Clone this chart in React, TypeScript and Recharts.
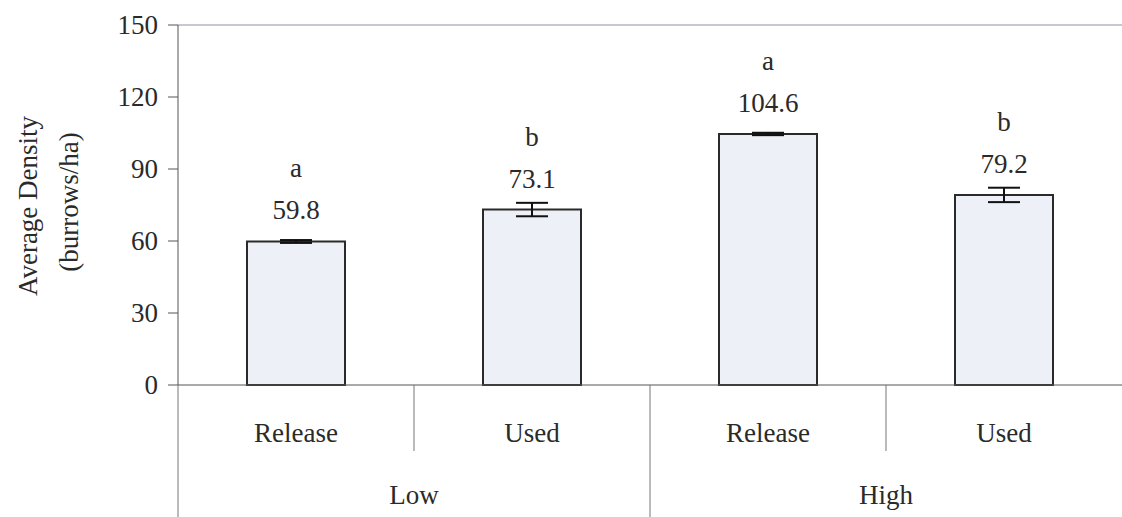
import { Bar, BarChart, ErrorBar, LabelList, ReferenceLine, XAxis, YAxis } from "recharts";

const categories = ["Release", "Used", "Release", "Used"];
const groups = ["Low", "Low", "High", "High"];
const densities = [59.8, 73.1, 104.6, 79.2];
const errors = [0.6, 2.8, 0.5, 3.0];
const letters = ["a", "b", "a", "b"];
const yTicks = [0, 30, 60, 90, 120, 150];

const W = 1122;
const H = 517;
const LEFT = 178;
const BAND = (W - LEFT) / categories.length;
const FONT = "'Times New Roman', 'Liberation Serif', Times, 'DejaVu Serif', serif";
const INK = "#2a2a2a";
const FS = 27;

const data = categories.map((c, i) => ({
  key: `${groups[i]} ${c}`,
  cat: c,
  group: groups[i],
  density: densities[i],
  err: errors[i],
  letter: letters[i],
}));

const txt = { fontFamily: FONT, fontSize: FS, fill: INK };

function ValueTick(props: any) {
  const { x, y, payload } = props;
  return (
    <text x={x} y={y} dy="0.35em" textAnchor="end" style={txt}>
      {payload.value}
    </text>
  );
}

function CategoryTick(props: any) {
  const { x, y, index } = props;
  const first = index % 2 === 0;
  const lx = x - BAND / 2;
  return (
    <g>
      <line x1={lx} y1={y} x2={lx} y2={first ? H : y + 66} stroke="#777" strokeWidth={1} />
      <text x={x} y={y + 57} textAnchor="middle" style={txt}>
        {categories[index]}
      </text>
      {first && (
        <text x={x + BAND / 2} y={y + 119} textAnchor="middle" style={txt}>
          {groups[index]}
        </text>
      )}
    </g>
  );
}

function BarLabels(props: any) {
  const { x, y, width, index } = props;
  const cx = x + width / 2;
  return (
    <g>
      <text x={cx} y={y - 22} textAnchor="middle" style={txt}>
        {densities[index].toFixed(1)}
      </text>
      <text x={cx} y={y - 64} textAnchor="middle" style={txt}>
        {letters[index]}
      </text>
    </g>
  );
}

function YTitle() {
  return (
    <g>
      <text transform="translate(37,206) rotate(-90)" textAnchor="middle" style={txt}>
        Average Density
      </text>
      <text transform="translate(78,202) rotate(-90)" textAnchor="middle" style={txt}>
        (burrows/ha)
      </text>
    </g>
  );
}

export default function App() {
  return (
    <div style={{ position: "absolute", left: 0, top: 0, background: "#fff" }}>
      <BarChart width={W} height={H} data={data} margin={{ top: 25, right: 0, left: 0, bottom: 0 }} barCategoryGap={0}>
        <YAxis
          width={LEFT}
          domain={[0, 150]}
          ticks={yTicks}
          interval={0}
          stroke="#555"
          tickSize={10}
          tickMargin={10}
          tick={<ValueTick />}
          label={<YTitle />}
        />
        <XAxis
          dataKey="key"
          height={132}
          interval={0}
          stroke="#555"
          tickSize={0}
          tickMargin={0}
          tick={<CategoryTick />}
        />
        <ReferenceLine y={150} stroke="#b4b4c8" strokeWidth={1.5} />
        <Bar
          dataKey="density"
          barSize={98}
          fill="#eef0f8"
          stroke="#2a2a2a"
          strokeWidth={2}
          isAnimationActive={false}
        >
          <ErrorBar dataKey="err" width={16} stroke="#111" strokeWidth={2} />
          <LabelList dataKey="density" content={<BarLabels />} />
        </Bar>
      </BarChart>
    </div>
  );
}
